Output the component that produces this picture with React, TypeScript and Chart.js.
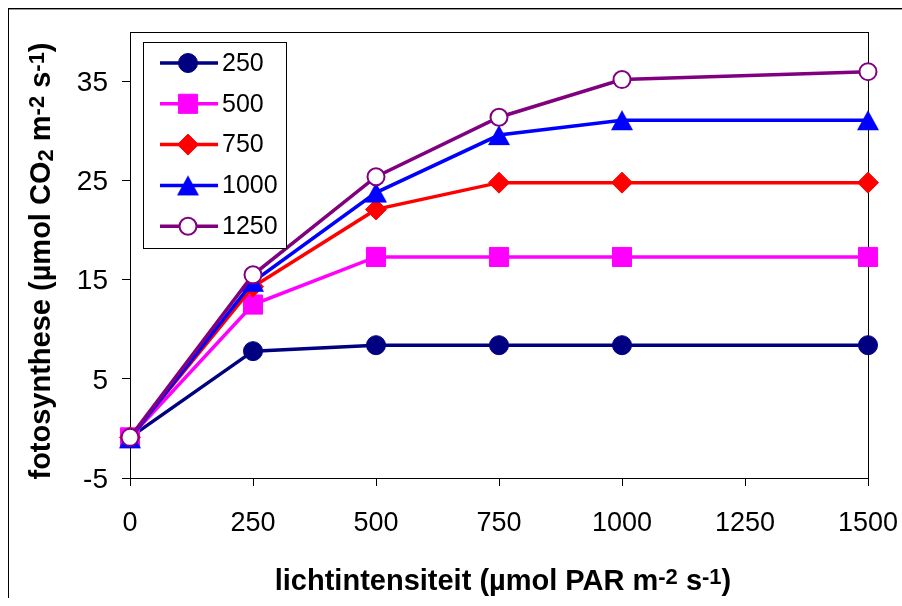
import React, { useEffect, useRef } from 'react';
import { Chart, registerables } from 'chart.js';
import { drawPoint } from 'chart.js/helpers';

Chart.register(...registerables);

// ---- data ----
const lightLevels = [0, 250, 500, 750, 1000, 1500];
const seriesLabels = ['250', '500', '750', '1000', '1250'];
const co2_250 = [-0.9, 7.8, 8.4, 8.4, 8.4, 8.4];
const co2_500 = [-0.9, 12.5, 17.3, 17.3, 17.3, 17.3];
const co2_750 = [-0.9, 14.3, 22.1, 24.8, 24.8, 24.8];
const co2_1000 = [-1.0, 14.8, 23.8, 29.6, 31.1, 31.1];
const co2_1250 = [-0.9, 15.5, 25.4, 31.4, 35.2, 36.0];
const xTicks = [0, 250, 500, 750, 1000, 1250, 1500];
const yTicks = [-5, 5, 15, 25, 35];
const xMin = 0, xMax = 1500, yMin = -5, yMax = 40;

const xTitle = [
  { t: 'lichtintensiteit (µmol PAR m', k: 'n' },
  { t: '-2', k: 'sup' },
  { t: ' s', k: 'n' },
  { t: '-1', k: 'sup' },
  { t: ')', k: 'n' },
];
const yTitle = [
  { t: 'fotosynthese (µmol CO', k: 'n' },
  { t: '2', k: 'sub' },
  { t: ' m', k: 'n' },
  { t: '-2', k: 'sup' },
  { t: ' s', k: 'n' },
  { t: '-1', k: 'sup' },
  { t: ')', k: 'n' },
];

// ---- styles ----
const FONT = '"Liberation Sans", Arial, Helvetica, sans-serif';
const CANVAS_W = 894, CANVAS_H = 590;
const seriesValues = [co2_250, co2_500, co2_750, co2_1000, co2_1250];
const seriesStyle = [
  { color: '#000080', fill: '#000080', pointStyle: 'circle', radius: 9.5, pbw: 1 },
  { color: '#FF00FF', fill: '#FF00FF', pointStyle: 'rect', radius: 13.5, pbw: 1 },
  { color: '#FF0000', fill: '#FF0000', pointStyle: 'rectRot', radius: 10.5, pbw: 1 },
  { color: '#0000FF', fill: '#0000FF', pointStyle: 'triangleBox', radius: 11, pbw: 1 },
  { color: '#800080', fill: '#FFFFFF', pointStyle: 'circle', radius: 8.5, pbw: 2 },
];

// triangle centred on its bounding box (as in the reference)
function makeTriangle(color: string) {
  const c = document.createElement('canvas');
  c.width = 24;
  c.height = 22;
  const g = c.getContext('2d')!;
  g.fillStyle = color;
  g.beginPath();
  g.moveTo(12, 1);
  g.lineTo(23, 21);
  g.lineTo(1, 21);
  g.closePath();
  g.fill();
  return c;
}

function drawRich(ctx: CanvasRenderingContext2D, segs: { t: string; k: string }[], size: number) {
  const fontFor = (k: string) => `bold ${k === 'n' ? size : Math.round(size * 0.76)}px ${FONT}`;
  let total = 0;
  const widths = segs.map((s) => {
    ctx.font = fontFor(s.k);
    const w = ctx.measureText(s.t).width;
    total += w;
    return w;
  });
  let x = -total / 2;
  ctx.textAlign = 'left';
  ctx.textBaseline = 'alphabetic';
  segs.forEach((s, i) => {
    ctx.font = fontFor(s.k);
    const dy = s.k === 'sup' ? -size * 0.2 : s.k === 'sub' ? size * 0.12 : 0;
    ctx.fillText(s.t, x, dy);
    x += widths[i];
  });
}

const overlayPlugin = {
  id: 'overlay',
  beforeDatasetsDraw(chart: any) {
    const { ctx, chartArea: a } = chart;
    ctx.save();
    ctx.strokeStyle = '#000';
    ctx.lineWidth = 1;
    ctx.strokeRect(Math.round(a.left) + 0.5, Math.round(a.top) + 0.5, Math.round(a.right - a.left), Math.round(a.bottom - a.top));
    ctx.restore();
  },
  afterDraw(chart: any) {
    const { ctx, chartArea: a, width, height } = chart;
    ctx.save();
    // outer frame
    ctx.fillStyle = '#000';
    ctx.fillRect(0, 0, width, 1);
    ctx.fillRect(0, 0, 1, height);
    ctx.fillStyle = '#9a9a9a';
    ctx.fillRect(1, 1, width, 1);
    // axis titles
    ctx.fillStyle = '#000';
    ctx.save();
    ctx.translate((a.left + a.right) / 2 + 4, 582);
    drawRich(ctx, xTitle, 29);
    ctx.restore();
    ctx.save();
    ctx.translate(42, (a.top + a.bottom) / 2 + 6);
    ctx.rotate(-Math.PI / 2);
    drawRich(ctx, yTitle, 29);
    ctx.restore();
    // legend
    const lx = a.left + 13, ly = a.top + 10, lw = 143, lh = 206;
    ctx.fillStyle = '#fff';
    ctx.fillRect(lx, ly, lw, lh);
    ctx.strokeStyle = '#000';
    ctx.lineWidth = 1;
    ctx.strokeRect(Math.round(lx) + 0.5, Math.round(ly) + 0.5, lw, lh);
    chart.data.datasets.forEach((ds: any, i: number) => {
      const y = a.top + 31 + i * 40.8;
      ctx.strokeStyle = ds.borderColor;
      ctx.lineWidth = ds.borderWidth;
      ctx.beginPath();
      ctx.moveTo(a.left + 30, y);
      ctx.lineTo(a.left + 88, y);
      ctx.stroke();
      ctx.fillStyle = ds.pointBackgroundColor;
      ctx.strokeStyle = ds.pointBorderColor;
      ctx.lineWidth = ds.pointBorderWidth;
      drawPoint(ctx, { pointStyle: ds.pointStyle, radius: ds.pointRadius, rotation: 0, borderWidth: ds.pointBorderWidth } as any, a.left + 58, y);
      ctx.fillStyle = '#000';
      ctx.font = `25px ${FONT}`;
      ctx.textAlign = 'left';
      ctx.textBaseline = 'middle';
      ctx.fillText(ds.label, a.left + 92, y + 1);
    });
    ctx.restore();
  },
};

export default function App() {
  const ref = useRef<HTMLCanvasElement>(null);
  useEffect(() => {
    if (!ref.current) return;
    document.body.style.margin = '0';
    const datasets = seriesLabels.map((label, i) => {
      const st = seriesStyle[i];
      const ps = st.pointStyle === 'triangleBox' ? makeTriangle(st.fill) : st.pointStyle;
      return {
        label,
        data: lightLevels.map((x, j) => ({ x, y: seriesValues[i][j] })),
        borderColor: st.color,
        backgroundColor: st.fill,
        borderWidth: 3.5,
        pointStyle: ps,
        pointRadius: st.radius,
        pointBackgroundColor: st.fill,
        pointBorderColor: st.color,
        pointBorderWidth: st.pbw,
        tension: 0,
        clip: false,
        order: seriesLabels.length - 1 - i,
      };
    });
    const zeroPad = (s: any) => { s.paddingTop = 0; s.paddingBottom = 0; s.paddingLeft = 0; s.paddingRight = 0; };
    const chart = new Chart(ref.current, {
      type: 'line',
      data: { datasets } as any,
      options: {
        animation: false,
        responsive: false,
        devicePixelRatio: 1,
        events: [],
        layout: { padding: { top: 24, right: 34, left: 0, bottom: 0 } },
        plugins: { legend: { display: false }, tooltip: { enabled: false } },
        scales: {
          x: {
            type: 'linear',
            min: xMin,
            max: xMax,
            afterBuildTicks: (s: any) => { s.ticks = xTicks.map((v) => ({ value: v })); },
            afterFit: (s: any) => { s.height = 120; zeroPad(s); },
            grid: { display: true, drawOnChartArea: false, drawTicks: true, tickLength: 8, color: '#000', lineWidth: 1 },
            border: { display: false },
            ticks: { color: '#000', font: { family: FONT, size: 27 }, padding: 21, maxRotation: 0, autoSkip: false, callback: (v: any) => String(v) },
          },
          y: {
            type: 'linear',
            min: yMin,
            max: yMax,
            afterBuildTicks: (s: any) => { s.ticks = yTicks.map((v) => ({ value: v })); },
            afterFit: (s: any) => { s.width = 122; zeroPad(s); },
            grid: { display: true, drawOnChartArea: false, drawTicks: true, tickLength: 8, color: '#000', lineWidth: 1 },
            border: { display: false },
            ticks: { color: '#000', font: { family: FONT, size: 28 }, padding: 14, labelOffset: 2, autoSkip: false, callback: (v: any) => String(v) },
          },
        },
      } as any,
      plugins: [overlayPlugin],
    });
    return () => chart.destroy();
  }, []);
  return (
    <div style={{ width: 902, height: 606, boxSizing: 'border-box', paddingLeft: 8, paddingTop: 8 }}>
      <canvas ref={ref} width={CANVAS_W} height={CANVAS_H} style={{ display: 'block' }} />
    </div>
  );
}
